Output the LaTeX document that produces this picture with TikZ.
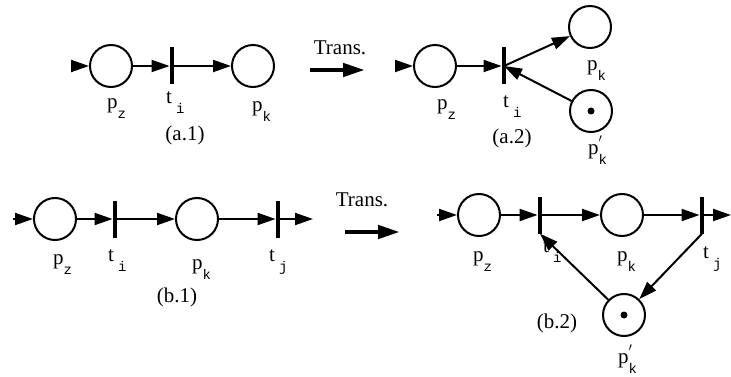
\documentclass[tikz,border=0pt]{standalone}
\usepackage{fontspec}
\setmainfont{Liberation Serif}
\setmonofont{Liberation Mono}
\usetikzlibrary{arrows.meta}
% subscript and primed labels
\newcommand{\sub}[1]{\raisebox{-10pt}{\fontsize{14}{14}\selectfont\ttfamily #1}}
\newcommand{\prm}{\rlap{\raisebox{5pt}{\fontsize{17}{17}\selectfont$'$}}}

\tikzset{
  place/.style={circle, draw, line width=2pt, minimum size=42pt, inner sep=0pt},
  trans/.style={fill=black, inner sep=0pt, minimum width=4.5pt, minimum height=37pt},
  arc/.style={line width=2pt, -{Triangle[length=18pt,width=12pt]}},
  token/.style={circle, fill=black, inner sep=0pt, minimum size=7pt},
  lab/.style={anchor=base west, inner sep=0pt, font=\fontsize{21}{24}\selectfont},
  caption/.style={inner sep=0pt, font=\fontsize{21}{24}\selectfont},
  bigarrow/.style={line width=4.5pt, -{Triangle[length=22pt,width=13pt]}}
}

\begin{document}
\begin{tikzpicture}[x=1pt, y=-1pt]
  \useasboundingbox (0,0) rectangle (731,377);

  % (a.1)
  \coordinate (ina1) at (72,66);
  \node[place] (pza1) at (111,66) {};
  \node[trans] (tia1) at (172,66) {};
  \node[place] (pka1) at (253,66) {};
  \draw[arc] (ina1) -- (pza1.west);
  \draw[arc] (pza1) -- (tia1);
  \draw[arc] (tia1) -- (pka1);
  \node[lab] (lpza1) at (107,109) {p\sub{z}};
  \node[lab] (ltia1) at (166,104) {t\hspace{4pt}\sub{i}};
  \node[lab] (lpka1) at (252,112) {p\sub{k}};
  \node[caption] (capa1) at (185,135) {(a.1)};

  % transformation a
  \node[caption] (transa) at (340,48) {Trans.};
  \coordinate (tra0) at (310,70);
  \coordinate (tra1) at (365,70);
  \draw[bigarrow] (tra0) -- (tra1);

  % (a.2)
  \coordinate (ina2) at (395,66);
  \node[place] (pza2) at (435,66) {};
  \node[trans] (tia2) at (504,66) {};
  \node[place] (pka2) at (590,27) {};
  \node[place] (pkka2) at (591,111) {};
  \node[token] (toka2) at (pkka2) {};
  \draw[arc] (ina2) -- (pza2.west);
  \draw[arc] (pza2) -- (tia2);
  \draw[arc] (tia2.center) -- (pka2);
  \draw[arc] (pkka2) -- (tia2.center);
  \node[lab] (lpza2) at (437,110) {p\sub{z}};
  \node[lab] (ltia2) at (503,108) {t\hspace{4pt}\sub{i}};
  \node[lab] (lpka2) at (587,71) {p\sub{k}};
  \node[lab] (lpkka2) at (588,154) {p\prm\sub{k}};
  \node[caption] (capa2) at (512,138) {(a.2)};

  % (b.1)
  \coordinate (inb1) at (13,219);
  \coordinate (outb1) at (313,219);
  \node[place] (pzb1) at (55,219) {};
  \node[trans] (tib1) at (115,219) {};
  \node[place] (pkb1) at (197,219) {};
  \node[trans] (tjb1) at (278,219) {};
  \draw[arc] (inb1) -- (pzb1.west);
  \draw[arc] (pzb1) -- (tib1);
  \draw[arc] (tib1) -- (pkb1);
  \draw[arc] (pkb1) -- (tjb1);
  \draw[arc] (tjb1) -- (outb1);
  \node[lab] (lpzb1) at (53,264) {p\sub{z}};
  \node[lab] (ltib1) at (108,261) {t\hspace{4pt}\sub{i}};
  \node[lab] (lpkb1) at (192,269) {p\sub{k}};
  \node[lab] (ltjb1) at (269,261) {t\hspace{4pt}\sub{j}};
  \node[caption] (capb1) at (177,297) {(b.1)};

  % transformation b
  \node[caption] (transb) at (362,200) {Trans.};
  \coordinate (trb0) at (345,232);
  \coordinate (trb1) at (400,232);
  \draw[bigarrow] (trb0) -- (trb1);

  % (b.2)
  \coordinate (inb2) at (437,215);
  \coordinate (outb2) at (731,215);
  \node[place] (pzb2) at (479,215) {};
  \node[trans] (tib2) at (540,215) {};
  \node[place] (pkb2) at (622,215) {};
  \node[trans] (tjb2) at (702,215) {};
  \node[place] (pkkb2) at (624,315) {};
  \node[token] (tokb2) at (pkkb2) {};
  \draw[arc] (inb2) -- (pzb2.west);
  \draw[arc] (pzb2) -- (tib2);
  \draw[arc] (tib2) -- (pkb2);
  \draw[arc] (pkb2) -- (tjb2);
  \draw[arc] (tjb2) -- (outb2);
  \draw[arc] (tjb2.south) -- (pkkb2);
  \draw[arc] (pkkb2) -- (tib2.south);
  \node[lab] (lpzb2) at (473,261) {p\sub{z}};
  \node[lab] (ltib2) at (543,252) {t\hspace{4pt}\sub{i}};
  \node[lab] (lpkb2) at (617,261) {p\sub{k}};
  \node[lab] (ltjb2) at (703,258) {t\hspace{4pt}\sub{j}};
  \node[lab] (lpkkb2) at (618,363) {p\prm\sub{k}};
  \node[caption] (capb2) at (557,323) {(b.2)};
\end{tikzpicture}
\end{document}
